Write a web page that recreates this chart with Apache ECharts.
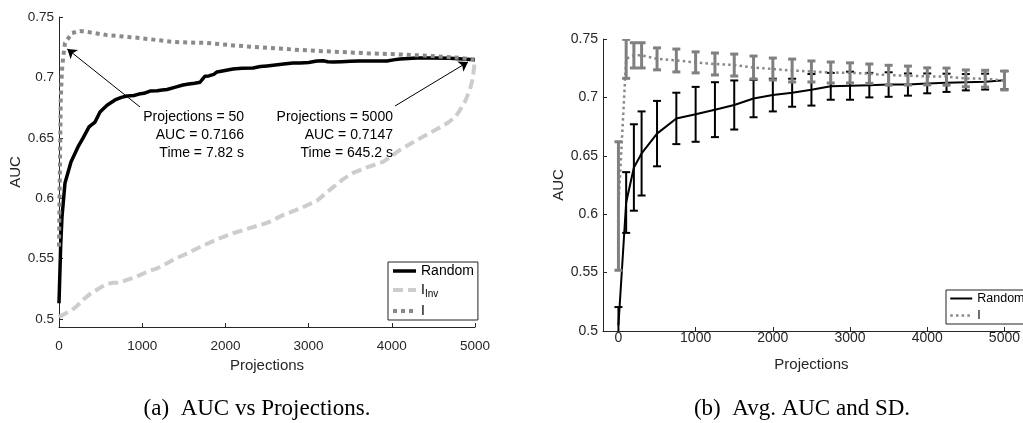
<!DOCTYPE html>
<html>
<head>
<meta charset="utf-8">
<script src="https://cdn.jsdelivr.net/npm/echarts@6/dist/echarts.min.js"></script>
<style>
  html, body { margin: 0; padding: 0; background: #fff; }
  #chart { width: 1023px; height: 423px; }
</style>
</head>
<body>
<div id="chart"></div>
<script>
// ---- (a) AUC vs Projections: [projections, AUC] ----
const randomCurve = [
  [0, 0.513], [20, 0.56], [36, 0.5845], [72, 0.6126], [144, 0.630], [228, 0.6424],
  [290, 0.650], [361, 0.659], [433, 0.663], [493, 0.6714], [577, 0.677], [673, 0.6813],
  [750, 0.6835], [817, 0.6846], [900, 0.685], [960, 0.6862], [1020, 0.6868], [1094, 0.6887],
  [1180, 0.6889], [1240, 0.6895], [1298, 0.690], [1400, 0.692], [1490, 0.6937], [1560, 0.6945],
  [1630, 0.6952], [1695, 0.696], [1730, 0.699], [1755, 0.701], [1800, 0.7012], [1860, 0.7025],
  [1899, 0.7045], [1980, 0.7055], [2091, 0.707], [2200, 0.7075], [2332, 0.7078], [2420, 0.709],
  [2500, 0.7095], [2600, 0.7102], [2700, 0.711], [2812, 0.712], [2900, 0.712], [3000, 0.7123],
  [3100, 0.7135], [3173, 0.7138], [3230, 0.713], [3293, 0.7127], [3400, 0.713], [3500, 0.7133],
  [3600, 0.7135], [3702, 0.7135], [3800, 0.7136], [3942, 0.7135], [4020, 0.7145], [4098, 0.7152],
  [4200, 0.7157], [4300, 0.716], [4495, 0.716], [4700, 0.7158], [4850, 0.7153], [5000, 0.7147]
];
const invCurve = [
  [0, 0.5017], [60, 0.504], [156, 0.5075], [220, 0.511], [290, 0.516], [380, 0.521],
  [490, 0.5257], [570, 0.529], [650, 0.530], [720, 0.530], [815, 0.5323], [930, 0.535],
  [1057, 0.539], [1180, 0.542], [1298, 0.5462], [1400, 0.550], [1500, 0.553], [1695, 0.5596],
  [1900, 0.566], [2091, 0.571], [2300, 0.5755], [2500, 0.5795], [2692, 0.586], [2900, 0.5915],
  [3101, 0.598], [3293, 0.609], [3420, 0.616], [3534, 0.6209], [3700, 0.6255], [3894, 0.630],
  [4000, 0.635], [4098, 0.640], [4300, 0.648], [4459, 0.654], [4663, 0.662], [4760, 0.667],
  [4820, 0.673], [4880, 0.680], [4940, 0.690], [4975, 0.700], [5000, 0.7147]
];
const iCurve = [
  [0, 0.56], [10, 0.62], [20, 0.68], [35, 0.705], [50, 0.7166], [72, 0.7285], [156, 0.7367],
  [252, 0.7384], [400, 0.737], [577, 0.735], [974, 0.7326], [1370, 0.7293], [1779, 0.7285],
  [2091, 0.7265], [2500, 0.7245], [2897, 0.7227], [3300, 0.7213], [3702, 0.720], [4100, 0.719],
  [4495, 0.7177], [4800, 0.7163], [5000, 0.7147]
];

// Text callouts of panel (a): anchor = top-right corner of the text block
const calloutAnchors = [[2224, 0.6747], [4014, 0.6747]];
const calloutTexts = [
  'Projections = 50\nAUC = 0.7166\nTime = 7.82 s',
  'Projections = 5000\nAUC = 0.7147\nTime = 645.2 s'
];
// Arrows of panel (a): [from, to]
const calloutArrows = [
  [[974, 0.6755], [100, 0.7235]],
  [[4038, 0.6763], [4916, 0.7128]]
];

// ---- (b) Avg. AUC and SD ----
const projSteps = [0, 100, 200, 300, 500, 750, 1000, 1250, 1500, 1750, 2000, 2250, 2500,
  2750, 3000, 3250, 3500, 3750, 4000, 4250, 4500, 4750, 5000];
const randomMean = [0.505, 0.610, 0.640, 0.652, 0.669, 0.682, 0.6855, 0.6895, 0.6935, 0.699,
  0.702, 0.704, 0.7065, 0.7095, 0.710, 0.7105, 0.711, 0.711, 0.712, 0.7125, 0.713, 0.7135, 0.7147];
const randomSD = [0.0155, 0.026, 0.037, 0.036, 0.028, 0.022, 0.0235, 0.0235, 0.021, 0.016,
  0.014, 0.012, 0.0135, 0.0115, 0.012, 0.0105, 0.0105, 0.0095, 0.0085, 0.0078, 0.007, 0.0068, 0.0078];
const iMean = [0.607, 0.733, 0.736, 0.736, 0.733, 0.7316, 0.730, 0.7286, 0.7277, 0.7256,
  0.7243, 0.723, 0.7222, 0.7213, 0.721, 0.7203, 0.719, 0.7187, 0.718, 0.7178, 0.7163, 0.716, 0.7145];
const iSD = [0.055, 0.0167, 0.0108, 0.0108, 0.0094, 0.0098, 0.009, 0.0094, 0.0094, 0.0098,
  0.0094, 0.0098, 0.009, 0.009, 0.0086, 0.0083, 0.0085, 0.0081, 0.0073, 0.0073, 0.0072, 0.0072, 0.0081];

// Tick labels
const xTicks = [0, 1000, 2000, 3000, 4000, 5000];
const yTicks = [0.5, 0.55, 0.6, 0.65, 0.7, 0.75];

// Captions
const captionA = '(a)  AUC vs Projections.';
const captionB = '(b)  Avg. AUC and SD.';

const AXIS = '#262626';
const SANS = '"Liberation Sans", Arial, sans-serif';
const SERIF = '"Liberation Serif", "Times New Roman", serif';

function xAxisCfg(grid, min, max, labelMargin, nameGap, fontSize) {
  return {
    type: 'value', gridIndex: grid, min: min, max: max,
    axisLine: { show: true, onZero: false, lineStyle: { color: AXIS, width: 1 } },
    axisTick: { show: true, inside: true, length: 4, customValues: xTicks, lineStyle: { color: AXIS } },
    axisLabel: { customValues: xTicks, margin: labelMargin, fontSize: fontSize, color: AXIS, fontFamily: SANS,
      formatter: v => String(Math.round(v)) },
    splitLine: { show: false },
    name: 'Projections', nameLocation: 'middle', nameGap: nameGap,
    nameTextStyle: { fontSize: 15, color: AXIS, fontFamily: SANS }
  };
}
function yAxisCfg(grid, min, nameGap, fontSize) {
  return {
    type: 'value', gridIndex: grid, min: min, max: 0.75,
    axisLine: { show: true, onZero: false, lineStyle: { color: AXIS, width: 1 } },
    axisTick: { show: true, inside: true, length: 4, customValues: yTicks, lineStyle: { color: AXIS } },
    axisLabel: { customValues: yTicks, margin: 5, fontSize: fontSize, color: AXIS, fontFamily: SANS,
      formatter: v => String(+v.toFixed(2)) },
    splitLine: { show: false },
    name: 'AUC', nameLocation: 'middle', nameGap: nameGap,
    nameTextStyle: { fontSize: 15, color: AXIS, fontFamily: SANS }
  };
}

// Vertical error bars with caps
function errorBars(name, means, sds, color, width, cap, z) {
  return {
    name: name, type: 'custom', xAxisIndex: 1, yAxisIndex: 1, clip: true, z: z, silent: true,
    data: projSteps.map((x, i) => [x, means[i] - sds[i], means[i] + sds[i]]),
    encode: { x: 0, y: [1, 2] },
    renderItem: function (params, api) {
      const lo = api.coord([api.value(0), api.value(1)]);
      const hi = api.coord([api.value(0), api.value(2)]);
      const style = { stroke: color, lineWidth: width, fill: null };
      return {
        type: 'group',
        children: [
          { type: 'line', shape: { x1: lo[0], y1: lo[1], x2: hi[0], y2: hi[1] }, style: style },
          { type: 'line', shape: { x1: lo[0] - cap, y1: lo[1], x2: lo[0] + cap, y2: lo[1] }, style: style },
          { type: 'line', shape: { x1: hi[0] - cap, y1: hi[1], x2: hi[0] + cap, y2: hi[1] }, style: style }
        ]
      };
    }
  };
}

const chart = echarts.init(document.getElementById('chart'), null, { renderer: 'canvas' });

const option = {
  animation: false,
  backgroundColor: '#fff',
  textStyle: { fontFamily: SANS },
  grid: [
    { left: 59, top: 17, width: 416, height: 310 },
    { left: 603, top: 39, width: 417, height: 292 }
  ],
  xAxis: [
    xAxisCfg(0, 0, 5000, 12, 31, 13.5),
    xAxisCfg(1, -200, 5200, 0, 26, 14)
  ],
  yAxis: [
    yAxisCfg(0, 0.5 - 0.05 * 8 / 60.4, 31, 13.5),
    yAxisCfg(1, 0.5, 35, 14)
  ],
  legend: [
    {
      data: ['Random', 'I_Inv', 'I'],
      orient: 'vertical', left: 388, top: 262,
      padding: [2, 4, 2, 3], itemGap: 5, itemWidth: 23, itemHeight: 16,
      backgroundColor: '#fff', borderColor: '#222', borderWidth: 1, borderRadius: 0,
      selectedMode: false,
      itemStyle: { opacity: 0 },
      lineStyle: { width: 'inherit' },
      formatter: n => n === 'I_Inv' ? '{m|I}{s|Inv}' : '{m|' + n + '}',
      textStyle: {
        color: '#000', fontFamily: SANS,
        rich: {
          m: { fontSize: 14, color: '#000', fontFamily: SANS },
          s: { fontSize: 10, color: '#000', fontFamily: SANS, padding: [8, 0, 0, 0] }
        }
      }
    },
    {
      data: ['Random ', 'I '],
      orient: 'vertical', left: 946, top: 290,
      padding: [2, 3, 2, 3], itemGap: 4, itemWidth: 22, itemHeight: 14,
      backgroundColor: '#fff', borderColor: '#222', borderWidth: 1, borderRadius: 0,
      selectedMode: false,
      itemStyle: { opacity: 0 },
      lineStyle: { width: 'inherit' },
      formatter: n => n.trim(),
      textStyle: { color: '#000', fontFamily: SANS, fontSize: 12.5 }
    }
  ],
  series: [
    {
      name: 'Random', type: 'line', xAxisIndex: 0, yAxisIndex: 0,
      data: randomCurve, showSymbol: false, symbol: 'none', z: 3,
      lineStyle: { color: '#000', width: 3.5, cap: 'butt', join: 'round' },
      itemStyle: { color: '#000' },
      markLine: {
        silent: true, symbol: ['none', 'arrow'], symbolSize: 9, precision: 4,
        lineStyle: { color: '#000', width: 1, type: 'solid' },
        label: { show: false },
        data: calloutArrows.map(a => [{ coord: a[0] }, { coord: a[1] }])
      },
      markPoint: {
        silent: true, symbol: 'circle', symbolSize: 0,
        data: calloutAnchors.map((c, i) => ({
          coord: c,
          label: {
            show: true, position: [0, 0], align: 'right', verticalAlign: 'top',
            formatter: calloutTexts[i], fontSize: 14, lineHeight: 18, color: '#000', fontFamily: SANS
          }
        }))
      }
    },
    {
      name: 'I_Inv', type: 'line', xAxisIndex: 0, yAxisIndex: 0,
      data: invCurve, showSymbol: false, symbol: 'none', z: 4,
      lineStyle: { color: '#cdcdcd', width: 4, type: [10, 5], cap: 'butt' },
      itemStyle: { color: '#cdcdcd' }
    },
    {
      name: 'I', type: 'line', xAxisIndex: 0, yAxisIndex: 0,
      data: iCurve, showSymbol: false, symbol: 'none', z: 5,
      lineStyle: { color: '#8a8a8a', width: 4, type: [4, 4], cap: 'butt' },
      itemStyle: { color: '#8a8a8a' }
    },
    {
      name: 'Random ', type: 'line', xAxisIndex: 1, yAxisIndex: 1,
      data: projSteps.map((x, i) => [x, randomMean[i]]), showSymbol: false, symbol: 'none', z: 3,
      clip: true,
      lineStyle: { color: '#000', width: 2 },
      itemStyle: { color: '#000' }
    },
    errorBars('randomSD', randomMean, randomSD, '#000', 2, 4, 4),
    {
      name: 'I ', type: 'line', xAxisIndex: 1, yAxisIndex: 1,
      data: projSteps.map((x, i) => [x, iMean[i]]), showSymbol: false, symbol: 'none', z: 5,
      clip: true,
      lineStyle: { color: '#888888', width: 2.5, type: [2.5, 3.2], cap: 'butt' },
      itemStyle: { color: '#888888' }
    },
    errorBars('iSD', iMean, iSD, '#808080', 3, 4, 6)
  ],
  // Captions under each panel
  graphic: [
    { type: 'text', x: 257, y: 409, silent: true,
      style: { text: captionA, font: '23px ' + SERIF, fill: '#000', align: 'center', verticalAlign: 'middle' } },
    { type: 'text', x: 802, y: 409, silent: true,
      style: { text: captionB, font: '23px ' + SERIF, fill: '#000', align: 'center', verticalAlign: 'middle' } }
  ]
};

chart.setOption(option);
</script>
</body>
</html>
